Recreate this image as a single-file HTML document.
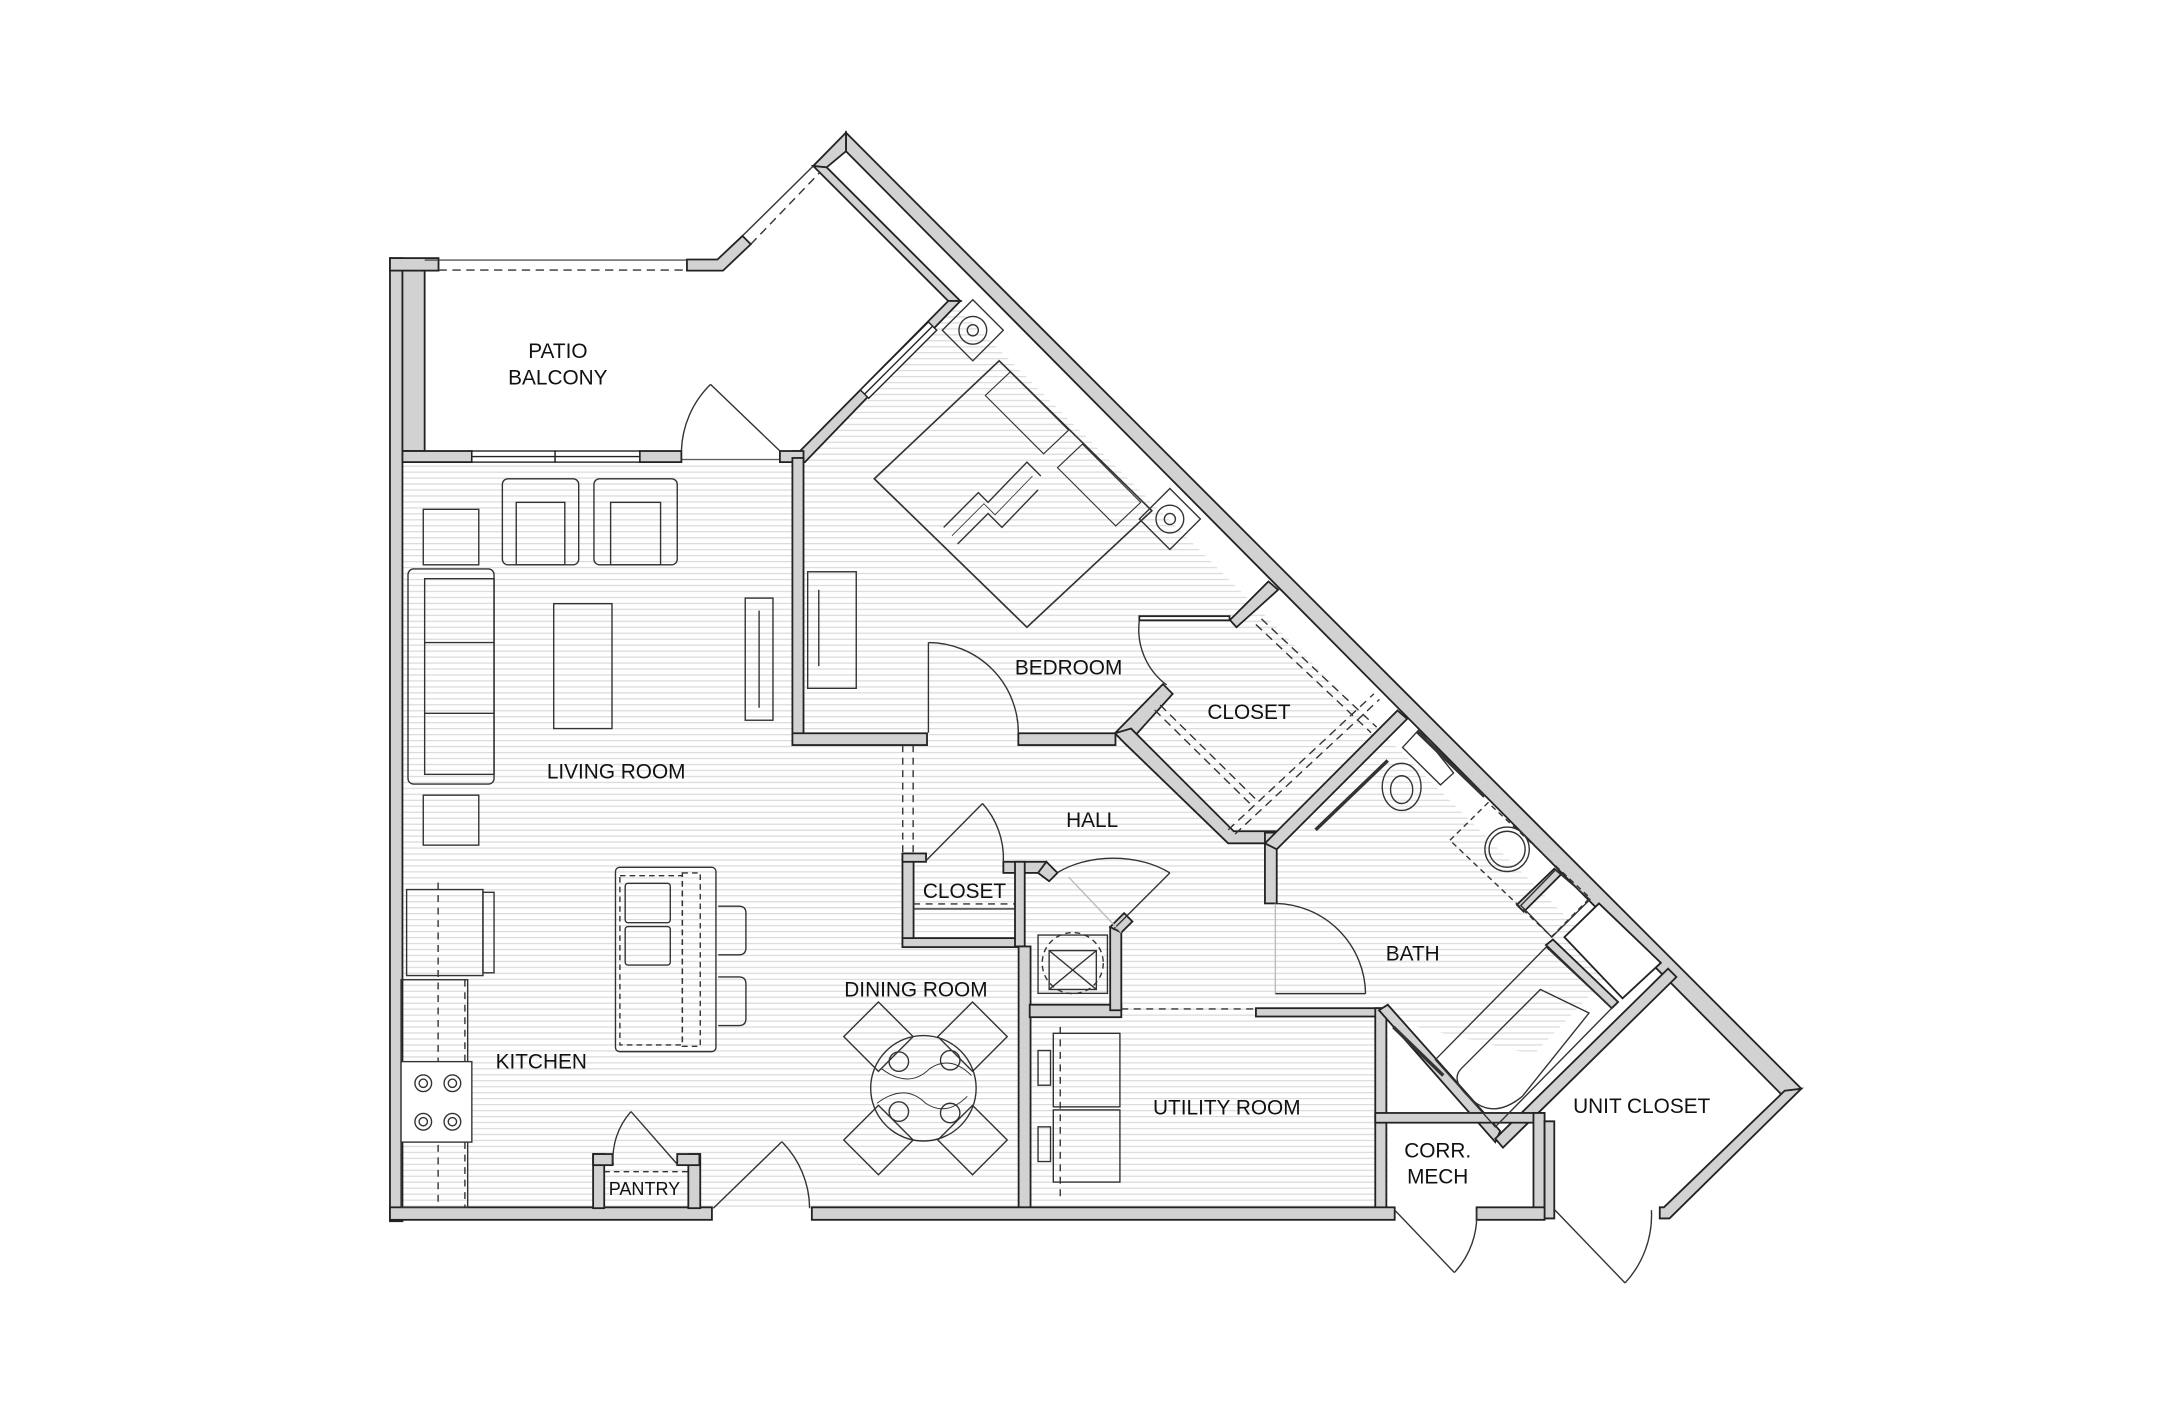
<!DOCTYPE html>
<html><head><meta charset="utf-8"><style>
html,body{margin:0;padding:0;background:#fff;width:2176px;height:1408px;overflow:hidden}
svg{display:block}
text{font-family:"Liberation Sans",sans-serif;font-size:15px;fill:#111;text-anchor:middle}
</style></head><body>
<svg width="2176" height="1408" viewBox="0 0 1568 1014.6" preserveAspectRatio="none">
<defs>
<pattern id="st" width="6" height="4.3" patternUnits="userSpaceOnUse">
<rect width="6" height="4.3" fill="#fff"/><line x1="0" y1="0.5" x2="6" y2="0.5" stroke="#d6d6d6" stroke-width="0.8"/>
</pattern>
</defs>
<!-- floor -->
<polygon points="290,333 576,329 687,219 1165,697 1105,760 1000,735 1000,870 290,870" fill="url(#st)"/>
<polygon points="733,537 812,537 885,608 920,608 1000,525 1000,735 920,735 920,651 740,651 740,537" fill="url(#st)"/>
<!-- walls -->
<g fill="#d2d2d2" stroke="#222" stroke-width="1.3" stroke-linejoin="miter">
<rect x="281" y="186" width="9" height="694"/>
<rect x="290" y="195" width="16" height="130"/>
<rect x="281" y="186" width="35" height="9"/>
<polygon points="495,187 517,187 535,170 541,176 521,195 495,195"/>
<!-- exterior big diagonal -->
<polygon points="609.6,95.6 1298,784.5 1286,791 609.6,109"/>
<polygon points="609.6,95.6 586,119.6 595.7,120.6 609.6,109"/>
<polygon points="586,119.6 683.3,216.9 692,216.9 595.7,120.6"/>
<!-- bedroom diag -->
<polygon points="683.3,216.9 692,216.9 580,333 571,333 571,325 576.5,325"/>
<!-- living top -->
<rect x="290" y="325" width="50" height="8"/>
<rect x="461" y="325" width="30" height="8"/>
<rect x="562" y="325" width="17" height="8"/>
<rect x="571" y="330" width="8" height="205"/>
<!-- bedroom bottom -->
<rect x="571" y="528.4" width="97" height="8.5"/>
<rect x="733.8" y="528.4" width="70" height="8.5"/>
<polygon points="803.4,528.4 838,493 845,500 811.8,536.9"/>
<polygon points="803.4,528.4 811.8,536.9 885,607.7 920,607.7 920,599 889,599 815,525"/>
<rect x="911.5" y="600" width="8.5" height="51"/>
<polygon points="911.5,607.7 1007,512 1014,518 920,612"/>
<polygon points="886.3,446.8 914,419 921,425 891,452"/>
<rect x="821" y="444" width="65" height="3" fill="#fff"/>
<!-- hall closet -->
<rect x="650.3" y="615" width="8" height="67"/>
<rect x="650.3" y="615" width="17" height="6"/>
<rect x="650.3" y="676" width="88" height="6.5"/>
<rect x="723" y="621" width="31" height="8"/>
<polygon points="754,621 762,629 756,635 748,629"/>
<rect x="731.4" y="621" width="7" height="61"/>
<!-- utility -->
<rect x="734" y="682" width="8.6" height="188"/>
<rect x="742" y="724" width="66" height="9"/>
<rect x="800" y="668" width="8" height="60"/>
<polygon points="800,668 810,658 816,664 808,672"/>
<rect x="905" y="726.5" width="90" height="6"/>
<rect x="991" y="726.5" width="8" height="146"/>
<!-- bath diag / tub walls -->
<polygon points="993.7,728 1000,724 1081,815 1077.5,823"/>
<polygon points="1077.5,820.5 1202,698 1208,704 1083,827"/>
<polygon points="1114,681 1161.4,726.5 1166,722 1119,677"/>
<polygon points="1093,652 1120,626 1125,630 1098,657"/>
<!-- corr mech -->
<rect x="991" y="802" width="122" height="7"/>
<rect x="1105" y="802" width="8" height="76"/>
<!-- unit closet -->
<polygon points="1298,784.5 1203,878 1196,878 1196,870 1199,870 1286,786"/>
<polygon points="1113,808 1120,808 1120,878 1113,878"/>
<polygon points="1127.3,675.3 1152.2,651 1196.8,693.8 1169.2,719.4" fill="#fff"/>
<!-- bottom -->
<rect x="281" y="870" width="232" height="9"/>
<rect x="585" y="870" width="420" height="9"/>
<rect x="1064" y="870" width="49" height="9"/>
<!-- pantry -->
<rect x="427.4" y="831.6" width="8" height="39"/>
<rect x="427.4" y="831.6" width="14" height="8"/>
<rect x="496" y="831.6" width="8.6" height="39"/>
<rect x="488" y="831.6" width="16" height="8"/>
</g>
<!-- windows -->
<g fill="#fff" stroke="#222" stroke-width="1">
<rect x="340" y="325" width="60" height="8"/><rect x="400" y="325" width="61" height="8"/>
<line x1="340" y1="329" x2="461" y2="329"/>
<polygon points="620,281 669,232 675,238 626,287"/>
<line x1="623" y1="284" x2="672" y2="235"/>
</g>
<g fill="none" stroke="#333" stroke-width="1">
<line x1="306" y1="187.4" x2="495" y2="187.4" stroke-width="0.8"/>
<line x1="316" y1="194.6" x2="495" y2="194.6" stroke-dasharray="6,4"/>
<line x1="535" y1="170" x2="586" y2="119.6"/>
<line x1="541" y1="176" x2="591" y2="124" stroke-dasharray="6,4"/>
<line x1="491" y1="331" x2="562" y2="331" stroke-width="0.6"/>
<line x1="650.5" y1="537" x2="650.5" y2="615" stroke-dasharray="5,4"/>
<line x1="658" y1="537" x2="658" y2="615" stroke-dasharray="5,4"/>
<line x1="808" y1="727" x2="905" y2="727" stroke-dasharray="5,4"/>
<line x1="658" y1="651.4" x2="731" y2="651.4" stroke-dasharray="5,4"/>
<line x1="658" y1="655" x2="731" y2="655"/>
<line x1="832" y1="511.6" x2="903" y2="581.3" stroke-dasharray="6,4"/>
<line x1="836" y1="508" x2="907" y2="578" stroke-dasharray="6,4"/>
<line x1="885" y1="598" x2="990" y2="500" stroke-dasharray="6,4"/>
<line x1="890" y1="601" x2="994" y2="504" stroke-dasharray="6,4"/>
<line x1="905" y1="450" x2="988" y2="528" stroke-dasharray="6,4"/>
<line x1="909" y1="446" x2="992" y2="524" stroke-dasharray="6,4"/>
<!-- doors -->
<line x1="562" y1="325" x2="512" y2="277"/><path d="M512,277 A70,70 0 0 0 491,325"/>
<line x1="669" y1="528" x2="669" y2="463"/><path d="M669,463 A65,65 0 0 1 733.8,528"/>
<path d="M821,447 A50,50 0 0 0 840.7,493.6"/>
<line x1="666.5" y1="621" x2="708" y2="579"/><path d="M708,579 A59,59 0 0 1 723,621"/>
<path d="M761.6,629 A60,40 0 0 1 843,629"/><line x1="843" y1="629" x2="802" y2="670"/>
<line x1="808" y1="672" x2="770" y2="632" stroke="#bbb"/>
<line x1="919" y1="651" x2="919" y2="716" stroke="#bbb"/>
<path d="M919,651 A66,66 0 0 1 984,716"/><line x1="919" y1="716" x2="984" y2="716"/>
<line x1="514" y1="870.7" x2="563.4" y2="822.7"/><path d="M563.4,822.7 A69,69 0 0 1 583.4,870.7"/>
<line x1="488.5" y1="839.5" x2="454.7" y2="801"/><path d="M454.7,801 A51,51 0 0 0 441.9,839.5"/>
<line x1="1005" y1="872" x2="1048" y2="917"/><path d="M1048,917 A60,60 0 0 0 1064,872"/>
<line x1="1120.5" y1="872" x2="1171" y2="924.5"/><path d="M1171,924.5 A72,72 0 0 0 1190,872"/>
<!-- living furniture -->
<rect x="294" y="410" width="62" height="155" rx="4"/><rect x="306" y="417" width="50" height="141"/>
<line x1="306" y1="463" x2="356" y2="463"/><line x1="306" y1="514" x2="356" y2="514"/>
<rect x="305" y="367" width="40" height="40"/><rect x="305" y="573" width="40" height="36"/>
<rect x="362" y="345" width="55" height="62" rx="4"/><rect x="372" y="362" width="35" height="45"/>
<rect x="428" y="345" width="60" height="62" rx="4"/><rect x="440" y="362" width="36" height="45"/>
<rect x="399" y="435" width="42" height="90"/>
<rect x="537" y="431" width="20" height="88"/><line x1="547" y1="440" x2="547" y2="510"/>
<rect x="582" y="412" width="35" height="84"/><line x1="590" y1="425" x2="590" y2="480"/>
<!-- bed -->
<polygon points="720,260 830,368 740,452 630,345" stroke-width="1.2"/>
<polygon points="728,268 770,310 752,327 710,285" stroke-width="0.8"/>
<polygon points="780,320 822,362 804,379 762,337" stroke-width="0.8"/>
<polyline points="680,380 705,355 712,362 740,333 750,343"/>
<polyline points="690,392 712,370 722,380 748,353"/>
<polyline points="686,386 709,363 717,371 744,343" stroke-width="0.6"/>
<polygon points="701,216 723,238 701,260 679,238"/><circle cx="701" cy="238" r="10"/><circle cx="701" cy="238" r="4"/>
<polygon points="843,352 865,374 843,396 821,374"/><circle cx="843" cy="374" r="10"/><circle cx="843" cy="374" r="4"/>
<!-- kitchen -->
<rect x="293" y="641" width="55" height="62"/><rect x="348" y="643" width="8" height="58"/>
<rect x="289" y="706" width="48" height="164"/>
<line x1="315.7" y1="636" x2="315.7" y2="870" stroke-dasharray="5,4"/>
<line x1="335" y1="706" x2="335" y2="870" stroke-dasharray="5,4"/>
<rect x="289" y="765" width="51" height="58" fill="#fff"/>
<circle cx="305" cy="780.6" r="6"/><circle cx="326" cy="780.6" r="6"/><circle cx="305" cy="808.3" r="6"/><circle cx="326" cy="808.3" r="6"/>
<circle cx="305" cy="780.6" r="3"/><circle cx="326" cy="780.6" r="3"/><circle cx="305" cy="808.3" r="3"/><circle cx="326" cy="808.3" r="3"/>
<rect x="443.5" y="625" width="72.4" height="132.8" rx="3"/>
<rect x="446.7" y="631" width="45" height="122" stroke-dasharray="4,3"/>
<rect x="491.7" y="629" width="12.9" height="125" stroke-dasharray="4,3"/>
<rect x="450.5" y="636.5" width="32.5" height="28.4" rx="2"/><rect x="450.5" y="667.7" width="32.5" height="27.7" rx="2"/>
<path d="M517.5,653 h15 q5,0 5,5 v25 q0,5 -5,5 h-15"/><path d="M517.5,704 h15 q5,0 5,5 v25 q0,5 -5,5 h-15"/>
<line x1="435.4" y1="844.3" x2="496" y2="844.3" stroke-dasharray="4,3"/>
<!-- dining -->
<circle cx="665.4" cy="784.2" r="38"/>
<polygon points="633,722 658,747 633,772 608,747"/><polygon points="700.8,722 725.8,747 700.8,772 675.8,747"/>
<polygon points="633,796.5 658,821.5 633,846.5 608,821.5"/><polygon points="700.8,796.5 725.8,821.5 700.8,846.5 675.8,821.5"/>
<circle cx="647.7" cy="765" r="7"/><circle cx="684.7" cy="764" r="7"/><circle cx="647.7" cy="801" r="7"/><circle cx="684.7" cy="802" r="7"/>
<path d="M635,770 q20,15 35,0 q15,-10 30,5 M632,795 q20,-15 35,0 q15,10 30,-5" stroke-width="0.7"/>
<!-- water heater -->
<rect x="748" y="673.8" width="50" height="42"/><rect x="756" y="685" width="34" height="28"/>
<line x1="756" y1="685" x2="790" y2="713"/><line x1="790" y1="685" x2="756" y2="713"/>
<circle cx="773" cy="694" r="22" stroke-dasharray="4,3"/>
<!-- utility -->
<rect x="759" y="744.6" width="48" height="53"/><rect x="759" y="799.8" width="48" height="52"/>
<rect x="748" y="757" width="9" height="25"/><rect x="748" y="812" width="9" height="25"/>
<line x1="764" y1="740" x2="764" y2="865" stroke-dasharray="5,4"/>
<!-- bath fixtures -->
<ellipse cx="1010" cy="567" rx="14" ry="17"/><ellipse cx="1010" cy="569" rx="8" ry="10"/>
<polygon points="1010.7,538.6 1022.5,525.8 1047.4,557 1038,565.6"/>
<line x1="1021" y1="527" x2="1069.7" y2="574" stroke-width="2.5"/>
<line x1="948" y1="598" x2="1000" y2="548" stroke-width="2.5"/>
<polygon points="1044.8,605.5 1072.3,578.4 1145.7,647 1118,675" stroke-dasharray="4,3"/>
<circle cx="1086" cy="612" r="16"/><circle cx="1086" cy="612" r="13"/>
<polygon points="1095.9,652.5 1120.8,626.9 1145.7,648.2 1118.2,675.3"/>
<polygon points="1034.3,763.6 1114.2,682.4 1161.4,726.5 1077.5,812"/>
<path d="M1053,770 L1110,713 L1145,730 L1097,790 Q1075,808 1058,790 Q1045,778 1053,770 Z"/>
<line x1="1004" y1="740" x2="1040" y2="775" stroke-width="2.5"/>
<line x1="1000" y1="802" x2="1060" y2="802"/>
</g>
<!-- labels -->
<text x="402" y="258">PATIO</text><text x="402" y="277">BALCONY</text>
<text x="444" y="561">LIVING  ROOM</text>
<text x="770" y="486">BEDROOM</text>
<text x="900" y="518">CLOSET</text>
<text x="787" y="596">HALL</text>
<text x="695" y="647">CLOSET</text>
<text x="1018" y="692">BATH</text>
<text x="660" y="718">DINING  ROOM</text>
<text x="390" y="770">KITCHEN</text>
<text x="884" y="803">UTILITY  ROOM</text>
<text x="1183" y="802">UNIT  CLOSET</text>
<text x="1036" y="834">CORR.</text><text x="1036" y="853">MECH</text>
<text x="464.4" y="861" style="font-size:13px">PANTRY</text>
</svg>
</body></html>
